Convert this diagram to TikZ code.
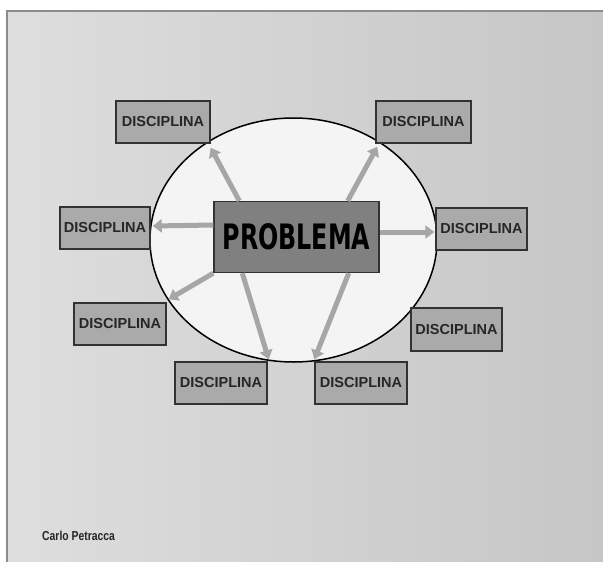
\documentclass[tikz,border=0pt]{standalone}
\usepackage{fontspec}
\setmainfont{Liberation Sans}
\newfontfamily\probfont{DejaVu Sans}
\usetikzlibrary{calc,arrows.meta}
\definecolor{bgl}{RGB}{222,222,222}
\definecolor{bgr}{RGB}{198,198,198}
\definecolor{framec}{RGB}{140,140,140}
\definecolor{ellfill}{RGB}{244,244,244}
\definecolor{boxfill}{RGB}{170,170,170}
\definecolor{boxline}{RGB}{50,50,50}
\definecolor{probfill}{RGB}{128,128,128}
\definecolor{arrowc}{RGB}{166,166,166}
\tikzset{
  discbox/.style={draw=boxline, line width=1.4pt, fill=boxfill, minimum width=92pt, minimum height=42pt, inner sep=0pt, font=\bfseries\fontsize{14.5}{16}\selectfont, text=black!85},
  probbox/.style={draw=boxline, line width=1.4pt, fill=probfill, minimum width=165pt, minimum height=71pt, inner sep=0pt},
  conn/.style={draw=arrowc, line width=5pt, -{Triangle[width=13pt,length=9pt]}}
}
\begin{document}
\begin{tikzpicture}[x=1pt,y=-1pt]
\useasboundingbox (0,0) rectangle (603,562);
\fill[white] (0,0) rectangle (603,562);
\shade[left color=bgl, right color=bgr] (7,11) rectangle (603,562);
\draw[framec, line width=2pt] (7,562) -- (7,11) -- (603,11);
\draw[black, line width=1.5pt, fill=ellfill] (293.5,240) ellipse [x radius=143.5, y radius=122];
\node[probbox] (prob) at (296.5,237) {\probfont\bfseries\scalebox{0.68}[1]{\fontsize{35}{37}\selectfont PROBLEMA}};
\node[discbox, minimum width=94pt] (d1) at (163,122) {DISCIPLINA};
\node[discbox, minimum width=95pt] (d2) at (423.5,122) {DISCIPLINA};
\node[discbox, minimum width=90pt] (d3) at (105,228) {DISCIPLINA};
\node[discbox, minimum width=91pt] (d4) at (481.5,229) {DISCIPLINA};
\node[discbox] (d5) at (120,324) {DISCIPLINA};
\node[discbox, minimum width=91pt, minimum height=43pt] (d6) at (456.5,329.5) {DISCIPLINA};
\node[discbox] (d7) at (221,383) {DISCIPLINA};
\node[discbox] (d8) at (361,383) {DISCIPLINA};
\draw[conn] ($(prob.north west)+(26,0)$) -- ($(d1.south east)+(0,4)$);
\draw[conn] ($(prob.north east)+(-32,0)$) -- ($(d2.south west)+(2,3)$);
\draw[conn] ($(prob.west)+(0,-12)$) -- ($(d3.east)+(2,-2)$);
\draw[conn] ($(prob.east)+(0,-5)$) -- ($(d4.west)+(-1,3)$);
\draw[conn] (prob.south west) -- ($(d5.north east)+(2,-3)$);
\draw[conn] ($(prob.south west)+(29,0)$) -- ($(d7.north east)+(1,-2)$);
\draw[conn] ($(prob.south east)+(-31,0)$) -- ($(d8.north west)+(0,-2)$);
\node[anchor=west, inner sep=0pt, font=\bfseries\fontsize{13}{15}\selectfont, text=black!85] (author) at (42,536) {\scalebox{0.8}[1]{Carlo Petracca}};
\end{tikzpicture}
\end{document}
